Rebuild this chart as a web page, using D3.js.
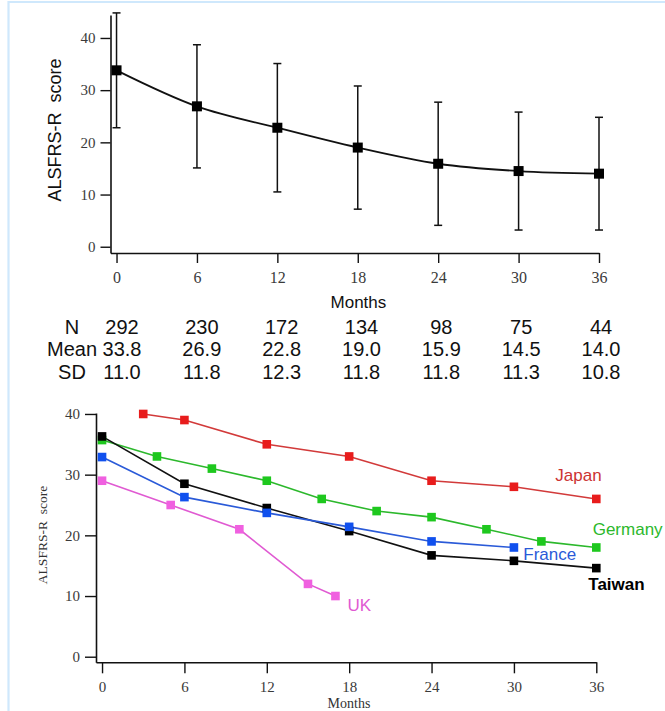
<!DOCTYPE html>
<html><head><meta charset="utf-8">
<script src="https://cdn.jsdelivr.net/npm/d3@7"></script>
<style>body{margin:0;background:#fff}svg{display:block}</style>
</head><body>
<svg id="c" width="665" height="711"></svg>
<script>
// ---------- data ----------
const months = [0, 6, 12, 18, 24, 30, 36];
const meanScore = [33.8, 26.9, 22.8, 19.0, 15.9, 14.5, 14.0];
const sdScore = [11.0, 11.8, 12.3, 11.8, 11.8, 11.3, 10.8];
const nPatients = [292, 230, 172, 134, 98, 75, 44];
const yTicks = [0, 10, 20, 30, 40];
const tableRows = ["N", "Mean", "SD"];

const japanMonths = [3, 6, 12, 18, 24, 30, 36];
const japanScore = [40, 39, 35, 33, 29, 28, 26];
const germanyMonths = [0, 4, 8, 12, 16, 20, 24, 28, 32, 36];
const germanyScore = [35.7, 33, 31, 29, 26, 24, 23, 21, 19, 18];
const taiwanMonths = [0, 6, 12, 18, 24, 30, 36];
const taiwanScore = [36.3, 28.5, 24.5, 20.7, 16.7, 15.8, 14.6];
const franceMonths = [0, 6, 12, 18, 24, 30];
const franceScore = [32.9, 26.3, 23.7, 21.4, 19.0, 18.0];
const ukMonths = [0, 5, 10, 15, 17];
const ukScore = [29, 25, 21, 12, 10];
const seriesNames = ["Japan", "Germany", "France", "Taiwan", "UK"];

// ---------- setup ----------
const svg = d3.select("#c");
const SANS = "'Liberation Sans', Arial, sans-serif";
const SERIF = "'Liberation Serif', 'Times New Roman', serif";

// frame
svg.append("path").attr("d", "M8.5,711V2H665").attr("fill", "none")
  .attr("stroke", "#cfe8fc").attr("stroke-width", 2.2);

// ---------- top chart ----------
const xT = d3.scaleLinear().domain([-0.45, 36]).range([110.5, 599]);
const yT = d3.scaleLinear().domain([-1.2, 44.4]).range([253, 15]);

function styleAxis(g, size, color) {
  g.select(".domain").attr("stroke", "#111").attr("stroke-width", 1.6);
  g.selectAll(".tick line").attr("stroke", "#111").attr("stroke-width", 1.4);
  g.selectAll(".tick text").attr("font-family", SERIF).attr("font-size", size).attr("fill", color);
}

const gyT = svg.append("g").attr("transform", `translate(${xT(-0.45)},0)`)
  .call(d3.axisLeft(yT).tickValues(yTicks).tickSize(10).tickSizeOuter(0).tickPadding(5));
styleAxis(gyT, 15, "#3a3a3a");
const gxT = svg.append("g").attr("transform", `translate(0,${yT(-1.2)})`)
  .call(d3.axisBottom(xT).tickValues(months).tickSize(10).tickSizeOuter(0).tickPadding(9));
styleAxis(gxT, 16, "#3a3a3a");

const topData = months.map((m, i) => ({ m, mean: meanScore[i], sd: sdScore[i] }));

// error bars
const eb = svg.append("g").attr("stroke", "#111").attr("stroke-width", 1.5);
topData.forEach(d => {
  const x = xT(d.m);
  eb.append("line").attr("x1", x).attr("x2", x).attr("y1", yT(d.mean + d.sd)).attr("y2", yT(d.mean - d.sd));
  eb.append("line").attr("x1", x - 4).attr("x2", x + 4).attr("y1", yT(d.mean + d.sd)).attr("y2", yT(d.mean + d.sd));
  eb.append("line").attr("x1", x - 4).attr("x2", x + 4).attr("y1", yT(d.mean - d.sd)).attr("y2", yT(d.mean - d.sd));
});

svg.append("path").datum(topData)
  .attr("d", d3.line().x(d => xT(d.m)).y(d => yT(d.mean)).curve(d3.curveMonotoneX))
  .attr("fill", "none").attr("stroke", "#111").attr("stroke-width", 1.8);

svg.append("g").selectAll("rect").data(topData).join("rect")
  .attr("x", d => xT(d.m) - 5).attr("y", d => yT(d.mean) - 5)
  .attr("width", 10).attr("height", 10).attr("fill", "#000");

svg.append("text").attr("transform", "translate(55,130) rotate(-90)")
  .attr("text-anchor", "middle").attr("dy", "0.35em")
  .attr("font-family", SANS).attr("font-size", 18).attr("fill", "#111")
  .style("white-space", "pre").text("ALSFRS-R  score");
svg.append("text").attr("x", 358.4).attr("y", 301.7).attr("dy", "0.35em")
  .attr("text-anchor", "middle").attr("font-family", SANS).attr("font-size", 17)
  .attr("fill", "#111").text("Months");

// ---------- table ----------
const col = d3.scalePoint().domain(months).range([122, 601]);
const rowY = d3.scalePoint().domain(tableRows).range([333.7, 378.7]);
const tableVals = {
  "N": nPatients.map(String),
  "Mean": meanScore.map(v => v.toFixed(1)),
  "SD": sdScore.map(v => v.toFixed(1))
};
const tg = svg.append("g").attr("font-family", SANS).attr("font-size", 20).attr("fill", "#111");
tableRows.forEach(r => {
  tg.append("text").attr("x", 72).attr("y", rowY(r)).attr("text-anchor", "middle").text(r);
  months.forEach((m, i) => {
    tg.append("text").attr("x", col(m)).attr("y", rowY(r)).attr("text-anchor", "middle").text(tableVals[r][i]);
  });
});

// ---------- bottom chart ----------
const xB = d3.scaleLinear().domain([-0.44, 36]).range([96, 596.3]);
const yB = d3.scaleLinear().domain([-0.92, 40.16]).range([662.3, 413]);

const gyB = svg.append("g").attr("transform", `translate(${xB(-0.44)},0)`)
  .call(d3.axisLeft(yB).tickValues(yTicks).tickSize(11).tickSizeOuter(0).tickPadding(5));
styleAxis(gyB, 15, "#3a3a3a");
const gxB = svg.append("g").attr("transform", `translate(0,${yB(-0.92)})`)
  .call(d3.axisBottom(xB).tickValues(months).tickSize(11).tickSizeOuter(0).tickPadding(8));
styleAxis(gxB, 15, "#3a3a3a");

svg.append("text").attr("transform", "translate(42.4,535) rotate(-90)")
  .attr("text-anchor", "middle").attr("dy", "0.35em")
  .attr("font-family", SERIF).attr("font-size", 13.5).attr("fill", "#333")
  .style("white-space", "pre").text("ALSFRS-R  score");
svg.append("text").attr("x", 349).attr("y", 703.3).attr("dy", "0.35em")
  .attr("text-anchor", "middle").attr("font-family", SERIF).attr("font-size", 14)
  .attr("fill", "#333").text("Months");

const series = [
  { name: "Japan", ms: japanMonths, vs: japanScore, line: "#d23a3a", mark: "#e81c1c", text: "#cc3333", weight: "normal", dx: 5.4, dy: -18, anchor: "end" },
  { name: "Germany", ms: germanyMonths, vs: germanyScore, line: "#2cb82c", mark: "#1ec81e", text: "#2cb82c", weight: "normal", dx: -3.6, dy: -12.5, anchor: "start" },
  { name: "Taiwan", ms: taiwanMonths, vs: taiwanScore, line: "#111", mark: "#000", text: "#000", weight: "bold", dx: -8, dy: 22, anchor: "start" },
  { name: "France", ms: franceMonths, vs: franceScore, line: "#2a5ad8", mark: "#1050ee", text: "#2a5ad8", weight: "normal", dx: 9.4, dy: 12.5, anchor: "start" },
  { name: "UK", ms: ukMonths, vs: ukScore, line: "#e05ad2", mark: "#f060e0", text: "#e05ad2", weight: "normal", dx: 12, dy: 15, anchor: "start" }
];
const lineB = d3.line().x(d => xB(d[0])).y(d => yB(d[1]));

series.forEach(s => {
  const pts = s.ms.map((m, i) => [m, s.vs[i]]);
  svg.append("path").datum(pts).attr("d", lineB)
    .attr("fill", "none").attr("stroke", s.line).attr("stroke-width", 1.6);
});
series.forEach(s => {
  const pts = s.ms.map((m, i) => [m, s.vs[i]]);
  svg.append("g").selectAll("rect").data(pts).join("rect")
    .attr("x", d => xB(d[0]) - 4.3).attr("y", d => yB(d[1]) - 4.3)
    .attr("width", 8.6).attr("height", 8.6).attr("fill", s.mark);
  const last = pts[pts.length - 1];
  svg.append("text").attr("x", xB(last[0]) + s.dx).attr("y", yB(last[1]) + s.dy)
    .attr("text-anchor", s.anchor).attr("font-family", SANS).attr("font-size", 17)
    .attr("font-weight", s.weight).attr("fill", s.text).text(s.name);
});
</script>
</body></html>
